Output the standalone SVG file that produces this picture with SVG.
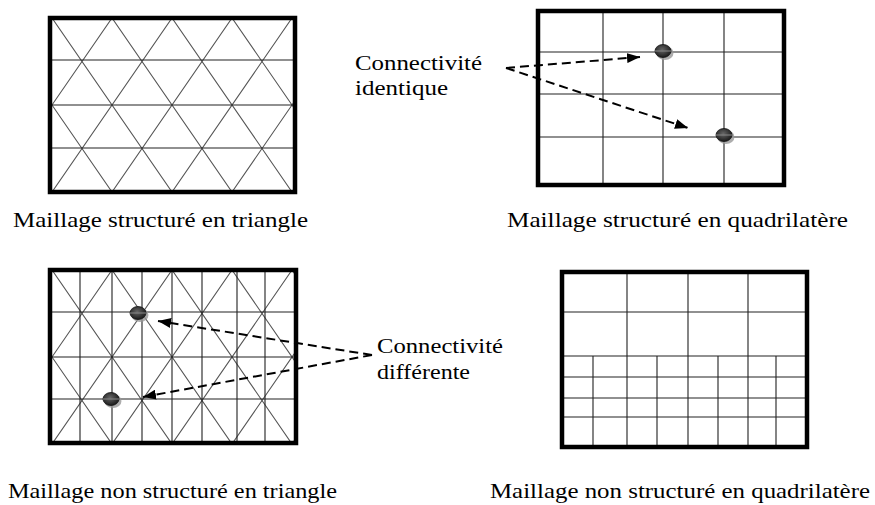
<svg xmlns="http://www.w3.org/2000/svg" width="875" height="505" viewBox="0 0 875 505">
<style>
.frame{fill:none;stroke:#000;stroke-width:4.5}
.grid{fill:none;stroke:#222;stroke-width:1.1}
.diag{fill:none;stroke:#555;stroke-width:1.1}
.lbl{font-family:"Liberation Serif","Times New Roman",serif;font-size:21px;fill:#000}
.arr{fill:none;stroke:#000;stroke-width:2;stroke-dasharray:9 5}
.shadow{fill:#999;opacity:0.8}
.dot{fill:url(#dg);stroke:#111;stroke-width:0.8}
.stripe{stroke:#888;stroke-width:1}
</style>
<defs>
<radialGradient id="dg" cx="0.45" cy="0.4" r="0.6">
<stop offset="0" stop-color="#666"/>
<stop offset="1" stop-color="#1a1a1a"/>
</radialGradient>
<marker id="ah" viewBox="0 0 13 10" refX="13" refY="5" markerWidth="13" markerHeight="10" markerUnits="userSpaceOnUse" orient="auto">
<path d="M0,0 L13,5 L0,10 z" fill="#000"/>
</marker>
<clipPath id="c1"><rect x="50" y="18" width="245" height="174"/></clipPath>
<clipPath id="c3"><rect x="50" y="270" width="246" height="173"/></clipPath>
</defs>
<rect width="875" height="505" fill="#fff"/>

<g id="mesh-struct-tri">
<g clip-path="url(#c1)" class="diag">
<path d="M-68 18L52 192M-8 18L112 192M52 18L172 192M112 18L232 192M172 18L292 192M232 18L352 192M292 18L412 192"/>
<path d="M52 18L-68 192M112 18L-8 192M172 18L52 192M232 18L112 192M292 18L172 192M352 18L232 192M412 18L292 192"/>
</g>
<path class="grid" d="M50 60H295M50 105H295M50 148H295"/>
<rect class="frame" x="50" y="18" width="245" height="174"/>
</g>

<g id="mesh-struct-quad">
<path class="grid" d="M603 11V185M663 11V185M724 11V185M538 52H784M538 94H784M538 137H784"/>
<rect class="frame" x="538" y="11" width="246" height="174"/>
<ellipse class="shadow" cx="665" cy="53" rx="8.5" ry="7"/>
<ellipse class="dot" cx="663" cy="51" rx="8" ry="6.5"/>
<line class="stripe" x1="655" y1="51" x2="671" y2="51"/>
<ellipse class="shadow" cx="726" cy="137" rx="8.5" ry="7"/>
<ellipse class="dot" cx="724" cy="135" rx="8" ry="6.5"/>
<line class="stripe" x1="716" y1="135" x2="732" y2="135"/>
</g>

<g id="mesh-unstruct-tri">
<g clip-path="url(#c3)" class="diag">
<path d="M-68 270L52 444M-8 270L112 444M52 270L172 444M112 270L232 444M172 270L292 444M232 270L352 444M292 270L412 444"/>
<path d="M52 270L-68 444M112 270L-8 444M172 270L52 444M232 270L112 444M292 270L172 444M352 270L232 444M412 270L292 444"/>
</g>
<path class="grid" d="M50 312H296M50 357H296M50 399H296M80 270V443M112 270V443M142 270V443M172 270V443M202 270V443M237 270V443M265 270V443"/>
<rect class="frame" x="50" y="270" width="246" height="173"/>
<ellipse class="shadow" cx="140" cy="315" rx="8.5" ry="7"/>
<ellipse class="dot" cx="138" cy="313" rx="8" ry="6.5"/>
<line class="stripe" x1="130" y1="313" x2="146" y2="313"/>
<ellipse class="shadow" cx="113" cy="401" rx="8.5" ry="7"/>
<ellipse class="dot" cx="111" cy="399" rx="8" ry="6.5"/>
<line class="stripe" x1="103" y1="399" x2="119" y2="399"/>
</g>

<g id="mesh-unstruct-quad">
<path class="grid" d="M627 272V447M688 272V447M748 272V447M562 312H807M562 356H807M593 356V447M657 356V447M718 356V447M776 356V447M562 377H807M562 398H807M562 417H807"/>
<rect class="frame" x="562" y="272" width="245" height="175"/>
</g>

<g id="connectors">
<path class="arr" d="M506 68L640 57" marker-end="url(#ah)"/>
<path class="arr" d="M506 68L688 128" marker-end="url(#ah)"/>
<path class="arr" d="M372 355L158 321" marker-end="url(#ah)"/>
<path class="arr" d="M372 355L143 397" marker-end="url(#ah)"/>
</g>

<g id="label-identique">
<text class="lbl" x="355" y="70" textLength="127" lengthAdjust="spacingAndGlyphs">Connectivité</text>
<text class="lbl" x="355" y="95" textLength="93" lengthAdjust="spacingAndGlyphs">identique</text>
</g>
<g id="label-differente">
<text class="lbl" x="377" y="353" textLength="126" lengthAdjust="spacingAndGlyphs">Connectivité</text>
<text class="lbl" x="377" y="379" textLength="93" lengthAdjust="spacingAndGlyphs">différente</text>
</g>
<g id="captions">
<text class="lbl" x="13" y="227" textLength="295" lengthAdjust="spacingAndGlyphs">Maillage  structuré en triangle</text>
<text class="lbl" x="507" y="227" textLength="341" lengthAdjust="spacingAndGlyphs">Maillage  structuré en quadrilatère</text>
<text class="lbl" x="8" y="498" textLength="329" lengthAdjust="spacingAndGlyphs">Maillage non structuré en triangle</text>
<text class="lbl" x="490" y="498" textLength="380" lengthAdjust="spacingAndGlyphs">Maillage non structuré en quadrilatère</text>
</g>
</svg>
